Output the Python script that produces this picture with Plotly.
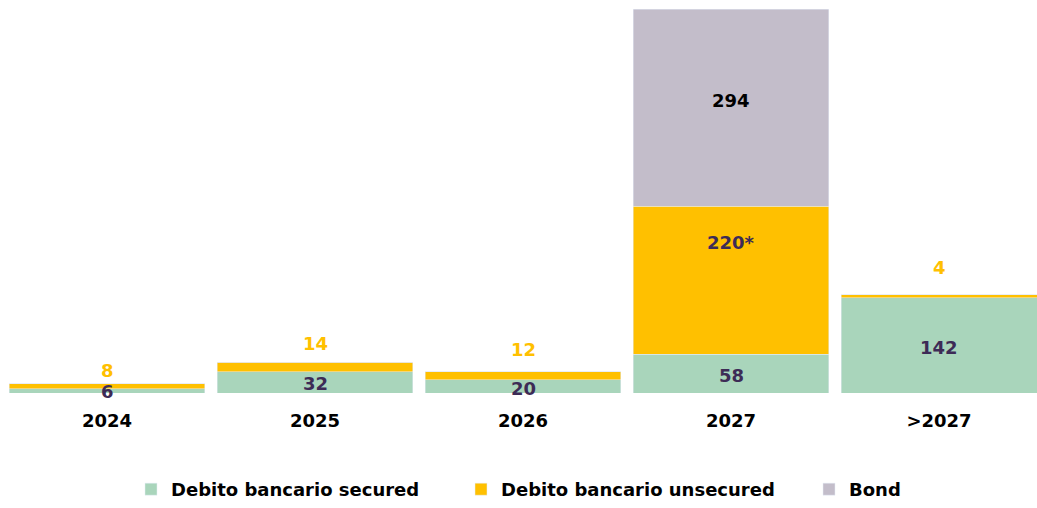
import plotly.graph_objects as go

categories = ["2024", "2025", "2026", "2027", ">2027"]
secured = [6, 32, 20, 58, 142]
unsecured = [8, 14, 12, 220, 4]
bond = [0, 0, 0, 294, 0]
unsecured_labels = ["8", "14", "12", "220*", "4"]
bond_labels = ["", "", "", "294", ""]

GREEN = "#a9d5bb"
YELLOW = "#ffc000"
GREY = "#c3bdca"
DARK = "#3d2b56"
FONT = "DejaVu Sans"
W, H = 1037, 508

# label offsets (px) as in the original layout
secured_shift = [-1, -1, -2, -2, -2]
unsecured_shift = [13, 19, 22, 38, 27]
bond_shift = 7

fig = go.Figure()
fig.add_bar(x=categories, y=secured, name="Debito bancario secured", marker_color=GREEN, legend="legend")
fig.add_bar(x=categories, y=unsecured, name="Debito bancario unsecured", marker_color=YELLOW, legend="legend2")
fig.add_bar(x=categories, y=bond, name="Bond", marker_color=GREY, legend="legend3")

lab_font = lambda col: dict(color=col, size=18, family=FONT, weight="bold")
annotations = []
for i, c in enumerate(categories):
    g, u, b = secured[i], unsecured[i], bond[i]
    annotations.append(dict(x=i, y=g / 2, text=str(g), showarrow=False,
                            font=lab_font(DARK), yanchor="middle", yshift=secured_shift[i]))
    if u > 50:
        annotations.append(dict(x=i, y=g + u / 2, text=unsecured_labels[i], showarrow=False,
                                font=lab_font(DARK), yanchor="middle", yshift=unsecured_shift[i]))
    else:
        annotations.append(dict(x=i, y=g + u, text=unsecured_labels[i], showarrow=False,
                                font=lab_font(YELLOW), yanchor="middle", yshift=unsecured_shift[i]))
    if b > 0:
        annotations.append(dict(x=i, y=g + u + b / 2, text=bond_labels[i], showarrow=False,
                                font=lab_font("#000000"), yanchor="middle", yshift=bond_shift))

def leg(px):
    return dict(orientation="h", xref="container", yref="container",
                x=px / W, xanchor="left", y=0, yanchor="bottom",
                font=dict(family=FONT, size=18, color="#000000", weight="bold"),
                itemwidth=30, bgcolor="rgba(0,0,0,0)")

fig.update_layout(
    barmode="stack",
    bargap=0.058,
    width=W, height=H,
    margin=dict(l=3, r=0, t=9, b=115),
    plot_bgcolor="white", paper_bgcolor="white",
    font=dict(family=FONT, size=17, color="#000000"),
    annotations=annotations,
    showlegend=True,
    legend=leg(131),
    legend2=leg(461),
    legend3=leg(809),
    xaxis=dict(range=[-0.5, 4.471], showgrid=False, showline=False, zeroline=False,
               tickfont=dict(family=FONT, size=18, color="#000000", weight="bold"),
               ticklen=0, ticklabelstandoff=15),
    yaxis=dict(range=[0, 572], visible=False, showgrid=False),
)

fig.write_html("out.html", config={"displayModeBar": False},
               post_script="document.body.style.margin='0';")
